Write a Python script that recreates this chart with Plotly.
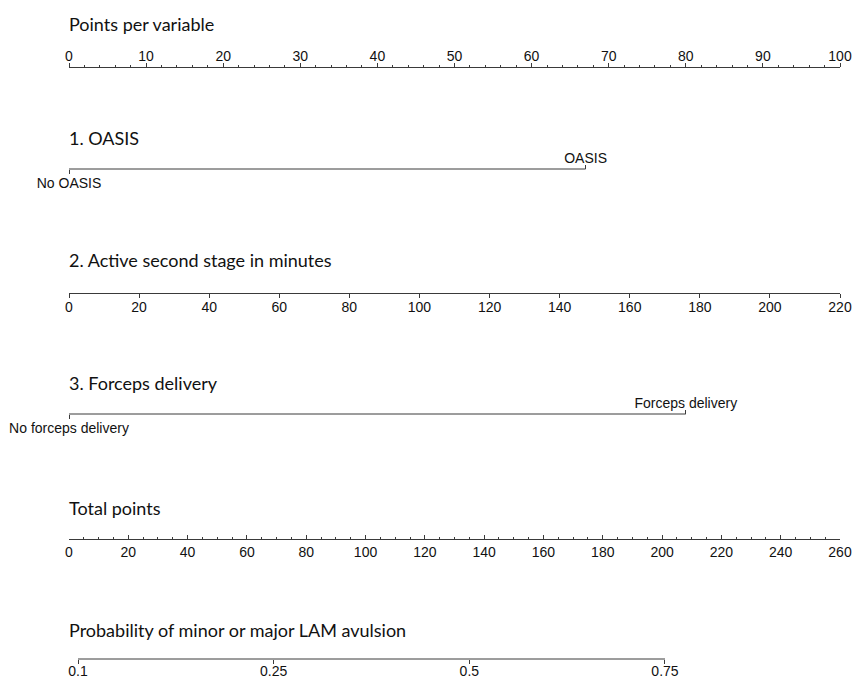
import math
import plotly.graph_objects as go

# ---------------- data ----------------
points_ticks = list(range(0, 101, 10))          # Points per variable axis
oasis_levels = ["No OASIS", "OASIS"]
oasis_points = [0, 67]
minutes_ticks = list(range(0, 221, 20))         # Active second stage (min)
minutes_max = 220                               # 220 min == 100 points
forceps_levels = ["No forceps delivery", "Forceps delivery"]
forceps_points = [0, 80]
total_ticks = list(range(0, 261, 20))           # Total points axis
total_max = 260
prob_ticks = [0.1, 0.25, 0.5, 0.75]
prob_labels = ["0.1", "0.25", "0.5", "0.75"]
lp_center = 135.0      # total points where probability = 0.5
lp_slope = 0.01665     # logit change per total point

titles = ["Points per variable", "1. OASIS", "2. Active second stage in minutes",
          "3. Forceps delivery", "Total points", "Probability of minor or major LAM avulsion"]

# ---------------- layout helpers ----------------
W, H = 855, 680
D = [69 / W, 840 / W]


def py(px):
    return 1 - px / H


line_px = [67, 169, 293, 414, 539, 659]
title_px = [24, 138, 260, 383, 508, 630]

LINE = "#3a3a3a"
TICKFONT = dict(family="Liberation Sans, Arial, sans-serif", size=14, color="#111")
TITLEFONT = dict(family="Lato, Calibri, sans-serif", size=18, color="#111")


def prob_to_total(p):
    return lp_center + math.log(p / (1 - p)) / lp_slope


fig = go.Figure()


def ghost(xa):
    fig.add_trace(go.Scatter(x=[0], y=[-1], xaxis=xa, yaxis="y", mode="markers",
                             marker=dict(opacity=0), showlegend=False, hoverinfo="skip"))


base = dict(domain=D, anchor="free", showgrid=False, zeroline=False, fixedrange=True,
            automargin=False, tickfont=TICKFONT, linecolor=LINE, tickcolor=LINE,
            tickwidth=1, linewidth=1)
TOP = dict(side="top", ticklabelstandoff=-4)
BOT = dict(side="bottom", ticklabelstandoff=-3)

layout_axes = {}
# Points per variable
layout_axes["xaxis"] = dict(base, **TOP, range=[0, 100], position=py(line_px[0]),
                            tickmode="array", tickvals=points_ticks, ticks="outside", ticklen=4,
                            showline=True,
                            minor=dict(dtick=2, ticklen=2, ticks="outside", tickcolor=LINE))
ghost("x")

# OASIS
layout_axes["xaxis2"] = dict(base, **TOP, overlaying="x", range=[0, 100], position=py(line_px[1]),
                             tickmode="array", tickvals=[oasis_points[1]],
                             ticktext=[oasis_levels[1]], ticks="outside", ticklen=4, showline=False)
layout_axes["xaxis3"] = dict(base, **BOT, overlaying="x", range=[0, 100], position=py(line_px[1]),
                             tickmode="array", tickvals=[oasis_points[0]],
                             ticktext=[oasis_levels[0]], ticks="outside", ticklen=4, showline=False)
fig.add_trace(go.Scatter(x=oasis_points, y=[py(line_px[1])] * 2, xaxis="x2", yaxis="y",
                         mode="lines", line=dict(color=LINE, width=1),
                         showlegend=False, hoverinfo="skip"))
ghost("x3")

# Active second stage
layout_axes["xaxis4"] = dict(base, **BOT, overlaying="x", range=[0, minutes_max],
                             position=py(line_px[2]), tickmode="array", tickvals=minutes_ticks,
                             ticks="outside", ticklen=4, showline=True)
ghost("x4")

# Forceps
layout_axes["xaxis5"] = dict(base, **TOP, overlaying="x", range=[0, 100], position=py(line_px[3]),
                             tickmode="array", tickvals=[forceps_points[1]],
                             ticktext=[forceps_levels[1]], ticks="outside", ticklen=4, showline=False)
layout_axes["xaxis6"] = dict(base, **BOT, overlaying="x", range=[0, 100], position=py(line_px[3]),
                             tickmode="array", tickvals=[forceps_points[0]],
                             ticktext=[forceps_levels[0]], ticks="outside", ticklen=4, showline=False)
fig.add_trace(go.Scatter(x=forceps_points, y=[py(line_px[3])] * 2, xaxis="x5", yaxis="y",
                         mode="lines", line=dict(color=LINE, width=1),
                         showlegend=False, hoverinfo="skip"))
ghost("x6")

# Total points
layout_axes["xaxis7"] = dict(base, side="bottom", overlaying="x", range=[0, total_max],
                             position=py(line_px[4]), tickmode="array", tickvals=total_ticks,
                             ticks="inside", ticklen=4, showline=True,
                             minor=dict(dtick=5, ticklen=2, ticks="inside", tickcolor=LINE))
ghost("x7")

# Probability
prob_pos = [prob_to_total(p) for p in prob_ticks]
layout_axes["xaxis8"] = dict(base, side="bottom", ticklabelstandoff=-5, overlaying="x",
                             range=[0, total_max], position=py(line_px[5]), tickmode="array",
                             tickvals=prob_pos, ticktext=prob_labels, ticks="outside", ticklen=4,
                             showline=False)
fig.add_trace(go.Scatter(x=[prob_pos[0], prob_pos[-1]], y=[py(line_px[5])] * 2, xaxis="x8",
                         yaxis="y", mode="lines", line=dict(color=LINE, width=1),
                         showlegend=False, hoverinfo="skip"))

annotations = [dict(text=t, x=D[0], y=py(ty), xref="paper", yref="paper", xanchor="left",
                    yanchor="middle", showarrow=False, font=TITLEFONT, xshift=-2)
               for t, ty in zip(titles, title_px)]

fig.update_layout(
    width=W, height=H, margin=dict(l=0, r=0, t=0, b=0, autoexpand=False),
    paper_bgcolor="white", plot_bgcolor="rgba(0,0,0,0)",
    yaxis=dict(domain=[0, 1], range=[0, 1], visible=False, fixedrange=True, automargin=False),
    annotations=annotations, showlegend=False,
    **layout_axes,
)

fig.write_html(
    "out.html",
    config={"displayModeBar": False},
    post_script="document.body.style.margin='0';document.body.style.overflow='hidden';",
)
